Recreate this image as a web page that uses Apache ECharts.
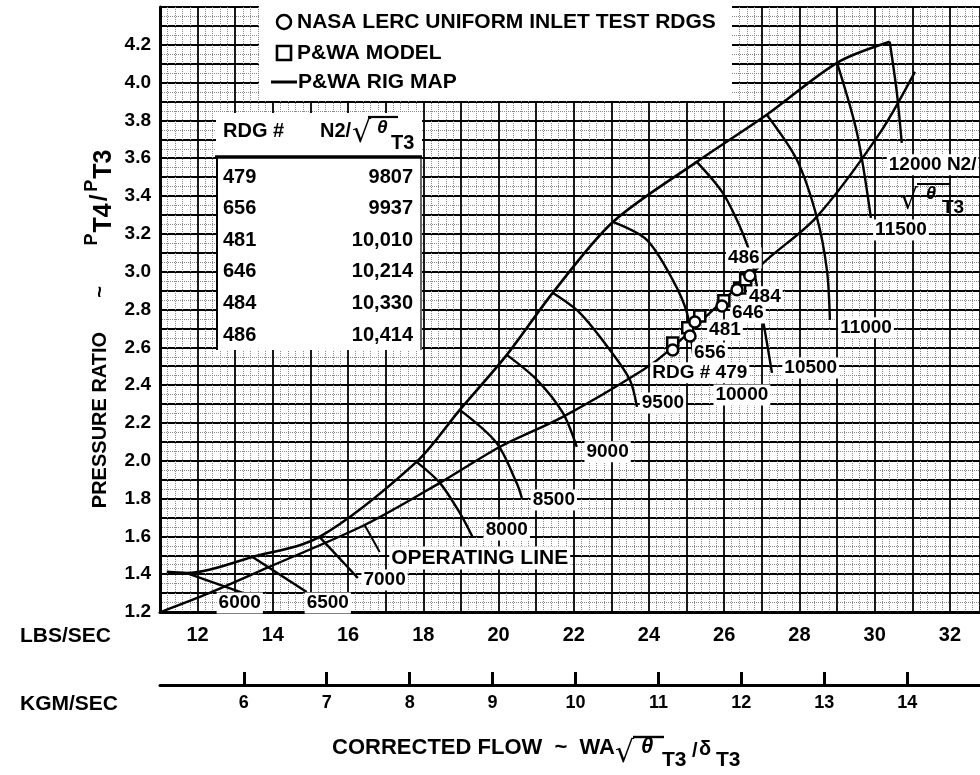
<!DOCTYPE html>
<html>
<head>
<meta charset="utf-8">
<script src="https://cdn.jsdelivr.net/npm/echarts@6/dist/echarts.min.js"></script>
<style>html,body{margin:0;padding:0;background:#fff}#c{width:980px;height:775px}</style>
</head>
<body>
<div id="c"></div>
<script>
// ---------- data ----------
const LB_PER_KG = 2.20462;
const lbsTicks = [12, 14, 16, 18, 20, 22, 24, 26, 28, 30, 32];
const kgmTicks = [6, 7, 8, 9, 10, 11, 12, 13, 14];
const prTicks = [1.2, 1.4, 1.6, 1.8, 2.0, 2.2, 2.4, 2.6, 2.8, 3.0, 3.2, 3.4, 3.6, 3.8, 4.0, 4.2];

const surgeLine = [[11.18, 1.412], [11.71, 1.406], [13.46, 1.491], [15.24, 1.597], [17.82, 1.994], [18.97, 2.269],
  [20.22, 2.560], [21.44, 2.888], [23.04, 3.263], [25.27, 3.581], [27.13, 3.830], [29.00, 4.105], [30.40, 4.216]];
const operatingLine = [[11.02, 1.200], [12.32, 1.301], [13.84, 1.433], [16.44, 1.660], [18.44, 1.883], [20.03, 2.073],
  [21.71, 2.232], [23.84, 2.480], [24.55, 2.586], [27.13, 3.062], [28.46, 3.290], [30.14, 3.734], [31.07, 4.057]];

const speed6000 = [[11.71, 1.406], [13.20, 1.301]];
const speed6500 = [[13.46, 1.491], [14.90, 1.306]];
const speed7000 = [[15.24, 1.597], [16.26, 1.380]];
const speed8000 = [[17.82, 1.994], [18.44, 1.883], [18.97, 1.724], [19.31, 1.597]];
const speed8500 = [[18.97, 2.269], [19.95, 2.094], [20.48, 1.883], [20.62, 1.803]];
const speed9000 = [[20.22, 2.560], [21.02, 2.428], [21.71, 2.253], [22.08, 2.073]];
const speed9500 = [[21.44, 2.888], [22.16, 2.782], [22.96, 2.586], [23.49, 2.428], [23.68, 2.285]];
const speed10000 = [[23.04, 3.263], [23.94, 3.168], [24.63, 2.957], [25.01, 2.782], [25.16, 2.586], [25.24, 2.460]];
const speed10500 = [[25.27, 3.581], [25.96, 3.417], [26.49, 3.205], [26.73, 3.062], [27.03, 2.745], [27.27, 2.465]];
const speed11000 = [[27.13, 3.830], [27.93, 3.592], [28.46, 3.290], [28.73, 3.010], [28.81, 2.745]];
const speed11500 = [[29.00, 4.105], [29.53, 3.734], [29.90, 3.285]];
const speed12000 = [[30.40, 4.216], [30.59, 3.946], [30.72, 3.681]];

const speedLabels = [[13.12, 1.248, '6000'], [15.46, 1.248, '6500'], [16.97, 1.369, '7000'], [20.22, 1.634, '8000'],
  [21.47, 1.793, '8500'], [22.90, 2.047, '9000'], [24.37, 2.306, '9500'], [26.47, 2.348, '10000'],
  [28.30, 2.491, '10500'], [29.77, 2.703, '11000'], [30.70, 3.221, '11500']];
const speedTopLabel = [30.32, 3.565, '12000 N2/'];
const readingLabels = [[26.52, 3.073, '486'], [27.08, 2.867, '484'], [26.63, 2.782, '646'],
  [26.02, 2.692, '481'], [25.62, 2.570, '656'], [25.35, 2.465, 'RDG # 479']];
const operatingLabel = [19.50, 1.486, 'OPERATING LINE'];
const operatingPointer = [[16.84, 1.517], [16.44, 1.660]];

const nasaPoints = [[24.63, 2.586], [25.09, 2.660], [25.22, 2.734], [25.94, 2.819], [26.34, 2.904], [26.68, 2.978]];
const pwaPoints = [[24.63, 2.623], [25.03, 2.703], [25.35, 2.766], [25.99, 2.846], [26.41, 2.914], [26.57, 2.957]];

const rdgNumbers = ['479', '656', '481', '646', '484', '486'];
const rdgSpeeds = ['9807', '9937', '10,010', '10,214', '10,330', '10,414'];
// ----------------------------------------------------

const FONT = '"Liberation Sans", Arial, Helvetica, sans-serif';
const chart = echarts.init(document.getElementById('c'), null, { renderer: 'canvas' });

const speedSets = [speed6000, speed6500, speed7000, speed8000, speed8500, speed9000, speed9500,
  speed10000, speed10500, speed11000, speed11500, speed12000];

function curve(data, width) {
  return { type: 'line', data: data, symbol: 'none', smooth: 0.3, silent: true, z: 5,
    lineStyle: { color: '#000', width: width } };
}
const labelText = (size, pos) => ({ show: true, position: pos, distance: 0, formatter: p => p.value[2],
  color: '#000', opacity: 1, fontFamily: FONT, fontWeight: 'bold', fontSize: size,
  backgroundColor: '#fff', padding: [1, 2], textBorderWidth: 0, textShadowBlur: 0 });
function labelSet(items, size, pos) {
  return { type: 'scatter', symbolSize: 0.1, silent: true, z: 8,
    itemStyle: { color: '#fff', opacity: 1 },
    emphasis: { disabled: true },
    data: items.map(d => ({ value: d })),
    label: labelText(size, pos || 'inside') };
}

const series = [curve(surgeLine, 2.6), curve(operatingLine, 2.4)];
speedSets.forEach(s => series.push(curve(s, 2.4)));
series.push(curve(operatingPointer, 2));
series.push({ type: 'scatter', data: pwaPoints, symbol: 'rect', symbolSize: 11, z: 9, silent: true,
  itemStyle: { color: '#fff', borderColor: '#000', borderWidth: 2.5, opacity: 1 } });
series.push({ type: 'scatter', data: nasaPoints, symbol: 'circle', symbolSize: 11, z: 9, silent: true,
  itemStyle: { color: '#fff', borderColor: '#000', borderWidth: 2.5, opacity: 1 } });
series.push(labelSet(speedLabels, 19));
series.push(labelSet(readingLabels, 19));
series.push(labelSet([operatingLabel], 21));
series.push(labelSet([speedTopLabel], 19, 'right'));

function T(x, y, text, font, align, extra) {
  return Object.assign({ type: 'text', x: x, y: y, z: 120, silent: true,
    style: { text: text, fill: '#000', font: font, textAlign: align || 'left', textVerticalAlign: 'middle',
      align: align || 'left', verticalAlign: 'middle' } }, extra || {});
}
function L(x1, y1, x2, y2, w) {
  return { type: 'line', z: 120, silent: true, shape: { x1: x1, y1: y1, x2: x2, y2: y2 },
    style: { stroke: '#000', lineWidth: w } };
}
const B = s => 'bold ' + s + 'px ' + FONT;
const SQRT = s => s + 'px "DejaVu Sans", sans-serif';
const TH = s => 'italic bold ' + s + 'px ' + FONT;
const ROT = { rotation: Math.PI / 2 };

const graphics = [
  // legend box
  { type: 'rect', z: 110, silent: true, shape: { x: 259, y: 0, width: 473, height: 101 }, style: { fill: '#fff' } },
  { type: 'circle', z: 120, silent: true, shape: { cx: 284, cy: 22, r: 7 }, style: { fill: '#fff', stroke: '#000', lineWidth: 2.6 } },
  T(297, 22, 'NASA LERC UNIFORM INLET TEST RDGS', B(21)),
  { type: 'rect', z: 120, silent: true, shape: { x: 277, y: 46, width: 14, height: 14 }, style: { fill: '#fff', stroke: '#000', lineWidth: 2.6 } },
  T(297, 53, 'P&WA MODEL', B(21)),
  L(271, 82, 297, 82, 3),
  T(298, 82, 'P&WA RIG MAP', B(21)),
  // table box
  { type: 'rect', z: 110, silent: true, shape: { x: 216, y: 113, width: 206, height: 237 }, style: { fill: '#fff' } },
  T(223, 131, 'RDG #', B(20)),
  T(320, 131, 'N2/', B(20)),
  T(352, 134, '\u221A', SQRT(30)),
  L(368, 117, 398, 117, 2.2),
  T(377, 128, '\u03B8', TH(19)),
  T(391, 143, 'T3', B(20)),
  L(215, 157, 422, 157, 3.5),
  L(217, 157, 217, 350, 2),
  L(421, 157, 421, 350, 1.2),
  // right-hand speed unit
  T(900, 202, '\u221A', SQRT(28)),
  L(917, 184, 950, 184, 2.2),
  T(926, 194, '\u03B8', TH(18)),
  T(942, 208, 'T3', B(19)),
  // axis captions
  T(20, 636, 'LBS/SEC', B(21)),
  T(20, 704, 'KGM/SEC', B(21)),
  // x title
  T(615, 748, 'CORRECTED FLOW  ~  WA', B(22), 'right'),
  T(615, 754, '\u221A', SQRT(30)),
  L(633, 737, 664, 737, 2.4),
  T(641, 747, '\u03B8', TH(22)),
  T(662, 760, 'T3', B(21)),
  T(692, 751, '/', B(20)),
  T(699, 749, '\u03B4', B(20)),
  T(716, 760, 'T3', B(21)),
  // y title (rotated pieces)
  T(100, 420, 'PRESSURE RATIO', B(20), 'center', ROT),
  T(100, 292, '~', B(20), 'center', ROT),
  { type: 'text', z: 120, silent: true, x: 100, y: 198, rotation: Math.PI / 2,
    style: { text: '{p|P}{s|T4}{b|/}{p|P}{s|T3}', fill: '#000',
      align: 'center', verticalAlign: 'middle', textAlign: 'center', textVerticalAlign: 'middle',
      rich: {
        b: { fontFamily: FONT, fontWeight: 'bold', fontSize: 24, lineHeight: 34, verticalAlign: 'middle', padding: [0, 2] },
        p: { fontFamily: FONT, fontWeight: 'bold', fontSize: 18, lineHeight: 34, verticalAlign: 'top', padding: [0, 1] },
        s: { fontFamily: FONT, fontWeight: 'bold', fontSize: 25, lineHeight: 34, verticalAlign: 'bottom' }
      } } }
];
rdgNumbers.forEach((r, i) => {
  const y = 177 + i * 31.6;
  graphics.push(T(223, y, r, B(20)));
  graphics.push(T(413, y, rdgSpeeds[i], B(20), 'right'));
});

const option = {
  backgroundColor: '#fff',
  animation: false,
  grid: { left: 160, right: 0, top: 7, bottom: 163, containLabel: false, outerBoundsMode: 'none' },
  xAxis: [
    { type: 'value', min: 11, max: 32.8, interval: 1,
      axisLine: { show: true, onZero: false, lineStyle: { color: '#000', width: 3 } },
      axisTick: { show: false },
      axisLabel: { customValues: lbsTicks, color: '#000', fontFamily: FONT, fontWeight: 'bold', fontSize: 20, margin: 13 },
      splitLine: { show: true, lineStyle: { color: '#000', width: 1.8 } },
      minorTick: { show: false, splitNumber: 5 },
      minorSplitLine: { show: true, lineStyle: { color: '#8a8a8a', width: 1, type: 'dotted' } } },
    { type: 'value', min: 11 / LB_PER_KG, max: 32.8 / LB_PER_KG, position: 'bottom', offset: 73,
      axisLine: { show: true, onZero: false, lineStyle: { color: '#000', width: 3 } },
      axisTick: { show: true, inside: true, length: 13, customValues: kgmTicks, lineStyle: { color: '#000', width: 3 } },
      axisLabel: { customValues: kgmTicks, color: '#000', fontFamily: FONT, fontWeight: 'bold', fontSize: 18, margin: 9 },
      splitLine: { show: false } }
  ],
  yAxis: { type: 'value', min: 1.2, max: 4.4, interval: 0.1,
    axisLine: { show: true, onZero: false, lineStyle: { color: '#000', width: 3 } },
    axisTick: { show: false },
    axisLabel: { customValues: prTicks, formatter: v => Number(v).toFixed(1), color: '#000',
      fontFamily: FONT, fontWeight: 'bold', fontSize: 19, margin: 9 },
    splitLine: { show: true, lineStyle: { color: '#000', width: 1.8 } },
    minorTick: { show: false, splitNumber: 2 },
    minorSplitLine: { show: true, lineStyle: { color: '#8a8a8a', width: 1, type: 'dotted' } } },
  series: series,
  graphic: graphics
};
chart.setOption(option);
</script>
</body>
</html>
